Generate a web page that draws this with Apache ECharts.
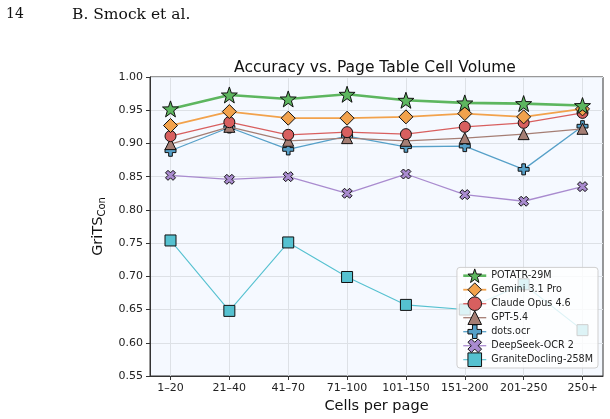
<!DOCTYPE html>
<html>
<head>
<meta charset="utf-8">
<script src="https://cdn.jsdelivr.net/npm/echarts@6/dist/echarts.min.js"></script>
<style>
  html, body { margin: 0; padding: 0; background: #fff; }
  #chart { width: 610px; height: 419px; }
</style>
</head>
<body>
<div id="chart"></div>
<script>
const categories = ['1–20', '21–40', '41–70', '71–100', '101–150', '151–200', '201–250', '250+']
const yTicks = [0.55, 0.6, 0.65, 0.7, 0.75, 0.8, 0.85, 0.9, 0.95, 1.0]

const potatr = [0.952, 0.973, 0.967, 0.974, 0.965, 0.961, 0.960, 0.957]
const gemini = [0.927, 0.948, 0.938, 0.938, 0.940, 0.945, 0.940, 0.952]
const claude = [0.911, 0.932, 0.913, 0.917, 0.914, 0.925, 0.931, 0.946]
const gpt = [0.899, 0.925, 0.904, 0.908, 0.904, 0.908, 0.914, 0.922]
const dots = [0.889, 0.924, 0.891, 0.911, 0.895, 0.896, 0.861, 0.926]
const deepseek = [0.852, 0.846, 0.850, 0.825, 0.854, 0.823, 0.813, 0.835]
const granite = [0.754, 0.648, 0.751, 0.699, 0.657, 0.650, 0.688, 0.619]

const STAR = 'path://M0,-10 L2.35,-3.24 L9.51,-3.09 L3.8,1.24 L5.88,8.09 L0,4 L-5.88,8.09 L-3.8,1.24 L-9.51,-3.09 L-2.35,-3.24 Z'
const PLUS = 'path://M-1,-3 H1 V-1 H3 V1 H1 V3 H-1 V1 H-3 V-1 H-1 Z'
const CROSS = 'path://M1.414,-2.828 L2.828,-1.414 L1.414,0 L2.828,1.414 L1.414,2.828 L0,1.414 L-1.414,2.828 L-2.828,1.414 L-1.414,0 L-2.828,-1.414 L-1.414,-2.828 L0,-1.414 Z'

const seriesDefs = [
  { name: 'POTATR-29M', data: potatr, color: '#5db65f', symbol: STAR, size: 16, width: 2.6 },
  { name: 'Gemini 3.1 Pro', data: gemini, color: '#f2a24c', symbol: 'diamond', size: 14, width: 1.8 },
  { name: 'Claude Opus 4.6', data: claude, color: '#d85f5f', symbol: 'circle', size: 11, width: 1.3 },
  { name: 'GPT-5.4', data: gpt, color: '#a57e74', symbol: 'triangle', size: 11, width: 1.3 },
  { name: 'dots.ocr', data: dots, color: '#56a0c8', symbol: PLUS, size: 11, width: 1.3 },
  { name: 'DeepSeek-OCR 2', data: deepseek, color: '#a98bcf', symbol: CROSS, size: 10, width: 1.3 },
  { name: 'GraniteDocling-258M', data: granite, color: '#55c1d0', symbol: 'rect', size: 11, width: 1.1 }
]

const chart = echarts.init(document.getElementById('chart'), null, { renderer: 'canvas' })

const font = 'DejaVu Sans'

const option = {
  animation: false,
  textStyle: { fontFamily: font },
  title: {
    text: 'Accuracy vs. Page Table Cell Volume',
    left: 370,
    textAlign: 'center',
    top: 55,
    textStyle: { fontFamily: font, fontSize: 15.5, fontWeight: 'normal', color: '#111' }
  },
  graphic: [
    { type: 'text', left: 6, top: 7, style: { text: '14', font: '14px "DejaVu Serif"', fill: '#111' } },
    { type: 'text', left: 72, top: 7, style: { text: 'B. Smock et al.', font: '15.5px "DejaVu Serif"', fill: '#111' } }
  ],
  legend: {
    orient: 'vertical',
    right: 12,
    bottom: 51,
    z: 30,
    itemWidth: 23,
    itemHeight: 17,
    itemGap: -0.6,
    padding: [1, 5, 1, 5],
    backgroundColor: 'rgba(255,255,255,0.8)',
    borderColor: '#cfcfcf',
    borderWidth: 1,
    borderRadius: 3,
    textStyle: { fontFamily: font, fontSize: 9.6, color: '#222' },
    data: seriesDefs.map(s => ({
      name: s.name,
      itemStyle: { color: s.color, borderColor: '#111', borderWidth: 1 },
      lineStyle: { color: s.color, width: s.width }
    }))
  },
  grid: [
    { left: 150, right: 7, top: 77, bottom: 43, show: true, backgroundColor: '#f5f9ff', borderColor: '#333', borderWidth: 1 },
    { left: 170.5, right: 27.5, top: 77, bottom: 43 }
  ],
  xAxis: [
    {
      gridIndex: 0, type: 'value', min: 0, max: 1,
      axisLine: { show: true, lineStyle: { color: '#333', width: 1 } },
      axisTick: { show: false }, axisLabel: { show: false }, splitLine: { show: false }
    },
    {
      gridIndex: 1, type: 'value', min: 0, max: categories.length - 1, interval: 1,
      axisLine: { show: false },
      axisTick: { show: true, length: 4, lineStyle: { color: '#333' } },
      axisLabel: { formatter: v => categories[v] || '', fontSize: 11, color: '#222', margin: 7 },
      splitLine: { show: true, lineStyle: { color: '#dde1e6', width: 1 } },
      name: 'Cells per page',
      nameLocation: 'middle',
      nameGap: 22,
      nameTextStyle: { fontSize: 14.5, color: '#111' }
    }
  ],
  yAxis: [
    {
      gridIndex: 0, type: 'value', min: yTicks[0], max: yTicks[yTicks.length - 1], interval: 0.05,
      axisLine: { show: true, lineStyle: { color: '#333', width: 1 } },
      axisTick: { show: true, length: 4, lineStyle: { color: '#333' } },
      axisLabel: { formatter: v => v.toFixed(2), fontSize: 11, color: '#222', margin: 7 },
      splitLine: { show: true, lineStyle: { color: '#dde1e6', width: 1 } },
      name: '{a|GriTS}{b|Con}',
      nameLocation: 'middle',
      nameGap: 30,
      nameTextStyle: {
        rich: {
          a: { fontSize: 14.5, fontFamily: font, color: '#111' },
          b: { fontSize: 10, fontFamily: font, color: '#111', padding: [8, 0, 0, 0] }
        }
      }
    },
    {
      gridIndex: 1, type: 'value', min: yTicks[0], max: yTicks[yTicks.length - 1], interval: 0.05,
      show: false
    }
  ],
  series: seriesDefs.map((s, k) => ({
    name: s.name,
    type: 'line',
    xAxisIndex: 1,
    yAxisIndex: 1,
    data: s.data.map((v, i) => [i, v]),
    symbol: s.symbol,
    symbolSize: s.size,
    z: 10 - k,
    lineStyle: { color: s.color, width: s.width },
    itemStyle: { color: s.color, borderColor: '#111', borderWidth: 1 },
    emphasis: { disabled: true }
  }))
}

chart.setOption(option)
</script>
</body>
</html>
